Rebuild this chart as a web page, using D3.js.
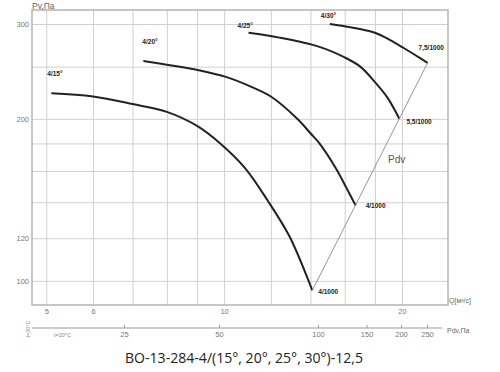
<!DOCTYPE html>
<html>
<head>
<meta charset="utf-8">
<script src="https://cdn.jsdelivr.net/npm/d3@7.9.0/dist/d3.min.js"></script>
<style>
  html, body { margin: 0; padding: 0; background: #fff; }
  svg { display: block; }
</style>
</head>
<body>
<div id="chart"></div>
<script>
// axis ticks / gridlines
const qTicks = [5, 6, 10, 20];
const qGrid = [5, 6, 7, 8, 9, 10, 12, 14, 16, 18, 20];
const pTicks = [100, 120, 200, 300];
const pGrid = [100, 120, 140, 160, 180, 200, 250, 300];
const pdvTicks = [25, 50, 100, 150, 200, 250];

// fan curves: Q [m3/s] vs Pv [Pa]
const q15 = [5.1, 6.0, 7.0, 8.0, 9.0, 9.85, 10.85, 11.85, 12.9, 13.9, 14.1];
const p15 = [223, 220, 213, 206, 194, 180, 162, 141, 121, 100, 96];
const q20 = [7.3, 8.0, 9.1, 10.1, 11.05, 12.0, 13.3, 14.0, 14.5, 15.5, 16.1, 16.7];
const p20 = [256, 252, 246, 239, 230, 220, 200, 188, 180, 161, 149, 138];
const q25 = [11.0, 12.4, 14.5, 16.0, 17.0, 18.0, 18.9, 19.8];
const p25 = [289, 283, 272, 260, 250, 234, 219, 200];
const q30 = [15.1, 16.0, 18.0, 19.1, 20.1, 21.5, 22.1];
const p30 = [300, 297, 289, 280, 271, 259, 254];

const curveNames = ['4/15°', '4/20°', '4/25°', '4/30°'];
const endNames = ['4/1000', '4/1000', '5,5/1000', '7,5/1000'];

const series = [[q15, p15], [q20, p20], [q25, p25], [q30, p30]]
  .map(([q, p], i) => ({
    name: curveNames[i],
    end: endNames[i],
    pts: q.map((v, j) => ({ q: v, p: p[j] }))
  }));

//─── layout ───
const W = 500, H = 372;
const margin = { top: 10, left: 32 };
const width = 416, height = 295;

const svg = d3.select('#chart').append('svg')
  .attr('width', W).attr('height', H)
  .attr('viewBox', `0 0 ${W} ${H}`);

const g = svg.append('g')
  .attr('transform', `translate(${margin.left},${margin.top})`);

const x = d3.scaleLog().domain([4.73, 23.93]).range([0, width]);
const y = d3.scaleLog().domain([90.2, 318.5]).range([height, 0]);
// dynamic-pressure scale as printed under the chart
const xPdv = d3.scaleLog()
  .domain([25, 50, 100, 200, 250])
  .range([92, 187, 286, 369, 395]);

const tickFont = 'Liberation Sans, Arial, sans-serif';

//─── grid + axes ───
const gx = g.append('g')
  .attr('transform', `translate(0,${height})`)
  .call(d3.axisBottom(x).tickValues(qGrid).tickSize(-height).tickPadding(4)
    .tickFormat(d => qTicks.includes(d) ? d : ''));

const gy = g.append('g')
  .call(d3.axisLeft(y).tickValues(pGrid).tickSize(-width).tickPadding(3)
    .tickFormat(d => pTicks.includes(d) ? d : ''));

[gx, gy].forEach(a => {
  a.select('.domain').remove();
  a.selectAll('line').attr('stroke', '#d0d0d0').attr('stroke-width', 1);
  a.selectAll('text').attr('fill', '#777').attr('font-size', 7.5)
    .attr('font-family', tickFont);
});

g.append('rect')
  .attr('width', width).attr('height', height)
  .attr('fill', 'none').attr('stroke', '#b4b4b4').attr('stroke-width', 1.5);

//─── curves ───
const line = d3.line()
  .x(d => x(d.q)).y(d => y(d.p))
  .curve(d3.curveCatmullRom.alpha(0.5));

g.selectAll('path.curve')
  .data(series)
  .join('path')
  .attr('class', 'curve')
  .attr('d', d => line(d.pts))
  .attr('fill', 'none')
  .attr('stroke', '#222')
  .attr('stroke-width', 2);

// Pdv line through curve ends
const ends = series.map(s => s.pts[s.pts.length - 1]);
g.append('path')
  .attr('d', d3.line().x(d => x(d.q)).y(d => y(d.p))([ends[0], ends[ends.length - 1]]))
  .attr('fill', 'none')
  .attr('stroke', '#8a8a8a')
  .attr('stroke-width', 0.9);

const startOff = [[-4, -17], [-1, -17], [-11, -5], [-9, -6]];
const endOff = [[6, 4], [10, 2], [7, 5], [-9, -13]];

g.selectAll('text.start')
  .data(series)
  .join('text')
  .attr('class', 'start')
  .attr('x', (d, i) => x(d.pts[0].q) + startOff[i][0])
  .attr('y', (d, i) => y(d.pts[0].p) + startOff[i][1])
  .attr('font-family', tickFont).attr('font-size', 6.5).attr('font-weight', 'bold')
  .attr('fill', '#222')
  .text(d => d.name);

g.selectAll('text.end')
  .data(series)
  .join('text')
  .attr('class', 'end')
  .attr('x', (d, i) => x(d.pts[d.pts.length - 1].q) + endOff[i][0])
  .attr('y', (d, i) => y(d.pts[d.pts.length - 1].p) + endOff[i][1])
  .attr('font-family', tickFont).attr('font-size', 6.5).attr('font-weight', 'bold')
  .attr('fill', '#222')
  .text(d => d.end);

g.append('text')
  .attr('x', 356).attr('y', 153)
  .attr('font-family', tickFont).attr('font-size', 10)
  .attr('fill', '#555')
  .text('Pdv');

// axis titles
svg.append('text')
  .attr('x', 32).attr('y', 9)
  .attr('font-family', tickFont).attr('font-size', 8.5).attr('fill', '#666')
  .text('Pv,Па');

svg.append('text')
  .attr('x', 449).attr('y', 303)
  .attr('font-family', tickFont).attr('font-size', 7).attr('fill', '#666')
  .text('Q[м³/с]');

//─── Pdv axis ───
const gp = svg.append('g')
  .attr('transform', `translate(${margin.left},328)`)
  .call(d3.axisBottom(xPdv).tickValues(pdvTicks).tickSize(-3).tickPadding(4)
    .tickFormat(d3.format('d')));
gp.select('.domain')
  .attr('d', `M0,0H${width - 6}`)
  .attr('stroke', '#999');
gp.selectAll('line').attr('stroke', '#999');
gp.selectAll('text').attr('fill', '#777').attr('font-size', 7.5)
  .attr('font-family', tickFont);

svg.append('text')
  .attr('x', 447).attr('y', 333)
  .attr('font-family', tickFont).attr('font-size', 7).attr('fill', '#666')
  .text('Pdv,Па');

svg.append('text')
  .attr('x', 54).attr('y', 337)
  .attr('font-family', tickFont).attr('font-size', 5.5).attr('fill', '#888')
  .text('t=20°C');

svg.append('text')
  .attr('transform', 'translate(30,329) rotate(-90)')
  .attr('text-anchor', 'middle')
  .attr('font-family', tickFont).attr('font-size', 5.5).attr('fill', '#888')
  .text('t=20°C');

//─── title ───
svg.append('text')
  .attr('x', 125).attr('y', 363)
  .attr('textLength', 238).attr('lengthAdjust', 'spacingAndGlyphs')
  .attr('font-family', 'Open Sans, Noto Sans, sans-serif').attr('font-size', 14)
  .attr('fill', '#222')
  .text('ВО-13-284-4/(15°, 20°, 25°, 30°)-12,5');
</script>
</body>
</html>
